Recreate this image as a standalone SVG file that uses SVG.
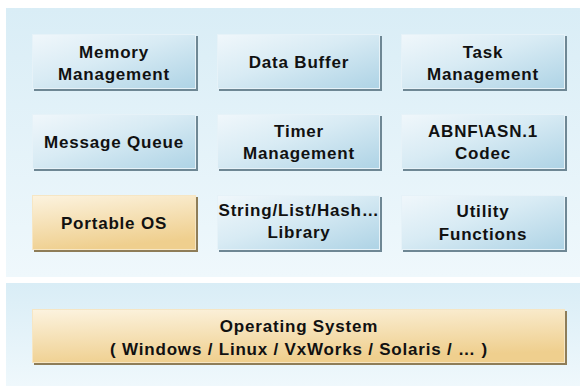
<svg xmlns="http://www.w3.org/2000/svg" width="582" height="386" viewBox="0 0 582 386">
<defs>
<linearGradient id="panel" x1="0" y1="0" x2="0" y2="1">
<stop offset="0" stop-color="#d9edf6"/>
<stop offset="1" stop-color="#eff8fc"/>
</linearGradient>
<linearGradient id="blue" x1="0" y1="0" x2="1" y2="1">
<stop offset="0" stop-color="#f0f7fb"/>
<stop offset="0.45" stop-color="#d8ebf4"/>
<stop offset="1" stop-color="#aed3e5"/>
</linearGradient>
<linearGradient id="orange" x1="0" y1="0" x2="0.3" y2="1">
<stop offset="0" stop-color="#fcf3df"/>
<stop offset="1" stop-color="#efcf8e"/>
</linearGradient>
<style>
.shb{fill:#6e8794}
.sho{fill:#8e7d58}
.bb{fill:url(#blue);stroke:#e6f2f8;stroke-width:1}
.bo{fill:url(#orange);stroke:#f6e6c4;stroke-width:1}
text{font-family:"Liberation Sans",Arial,sans-serif;font-weight:bold;font-size:17px;letter-spacing:0.8px;fill:#111;text-anchor:middle}
</style>
</defs>
<rect width="582" height="386" fill="#ffffff"/>
<rect x="6" y="8" width="574" height="269" fill="url(#panel)"/>
<rect x="6" y="283" width="574" height="103" fill="url(#panel)"/>

<g id="memory">
<rect class="shb" x="34" y="36" width="164" height="55"/>
<rect class="bb" x="32.5" y="34.5" width="163" height="54"/>
<text x="114" y="58">Memory</text>
<text x="114" y="80">Management</text>
</g>
<g id="databuffer">
<rect class="shb" x="219" y="36" width="163" height="55"/>
<rect class="bb" x="217.5" y="34.5" width="162" height="54"/>
<text x="299" y="68">Data Buffer</text>
</g>
<g id="task">
<rect class="shb" x="403" y="36" width="164" height="55"/>
<rect class="bb" x="401.5" y="34.5" width="163" height="54"/>
<text x="483" y="58">Task</text>
<text x="483" y="80">Management</text>
</g>

<g id="msgqueue">
<rect class="shb" x="34" y="116" width="164" height="55"/>
<rect class="bb" x="32.5" y="114.5" width="163" height="54"/>
<text x="114" y="148">Message Queue</text>
</g>
<g id="timer">
<rect class="shb" x="219" y="116" width="163" height="55"/>
<rect class="bb" x="217.5" y="114.5" width="162" height="54"/>
<text x="299" y="137">Timer</text>
<text x="299" y="159">Management</text>
</g>
<g id="codec">
<rect class="shb" x="403" y="116" width="164" height="55"/>
<rect class="bb" x="401.5" y="114.5" width="163" height="54"/>
<text x="483" y="137">ABNF\ASN.1</text>
<text x="483" y="159">Codec</text>
</g>

<g id="portableos">
<rect class="sho" x="34" y="197" width="164" height="55"/>
<rect class="bo" x="32.5" y="195.5" width="163" height="54"/>
<text x="114" y="229">Portable OS</text>
</g>
<g id="library">
<rect class="shb" x="219" y="197" width="163" height="55"/>
<rect class="bb" x="217.5" y="195.5" width="162" height="54"/>
<text x="299" y="216">String/List/Hash…</text>
<text x="299" y="238">Library</text>
</g>
<g id="utility">
<rect class="shb" x="403" y="197" width="164" height="55"/>
<rect class="bb" x="401.5" y="195.5" width="163" height="54"/>
<text x="483" y="217">Utility</text>
<text x="483" y="240">Functions</text>
</g>

<g id="os">
<rect class="sho" x="34" y="311" width="533" height="54"/>
<rect class="bo" x="32.5" y="309.5" width="532" height="53"/>
<text x="299" y="332">Operating System</text>
<text x="299" y="355">( Windows / Linux / VxWorks / Solaris / … )</text>
</g>
<g id="connectors"/>
</svg>
